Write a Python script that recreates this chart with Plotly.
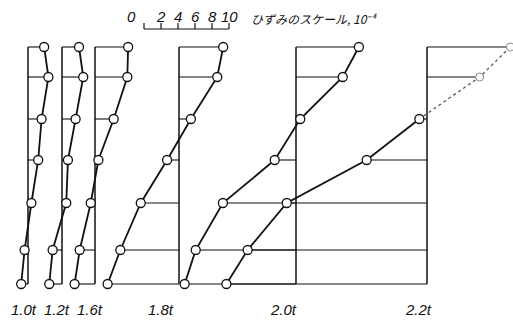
import plotly.graph_objects as go

# gauge depth levels (arbitrary depth units, top = 0)
levels = [0, 30, 72, 113, 156, 203, 237]

# load stages
loads = ["1.0t", "1.2t", "1.6t", "1.8t", "2.0t", "2.2t"]

# strain values at each gauge level, unit 10^-4
strain_10 = [1.9, 2.4, 1.6, 1.2, 0.4, -0.4, -0.8]
strain_12 = [2.0, 2.5, 1.6, 0.7, 0.5, -1.1, -1.5]
strain_16 = [3.9, 3.8, 2.2, 0.4, -0.5, -1.8, -2.4]
strain_18 = [5.2, 4.5, 1.4, -1.4, -4.5, -6.9, -8.4]
strain_20 = [7.4, 5.5, 0.5, -2.5, -8.6, -11.8, -13.1]
strain_22 = [9.8, 6.2, -0.9, -7.1, -16.5, -21.1, -23.6]
strains = [strain_10, strain_12, strain_16, strain_18, strain_20, strain_22]

# scale bar ticks (10^-4)
scale_ticks = [0, 2, 4, 6, 8, 10]

# ---- layout (positions) ----
PX = 8.5                      # pixels per 1e-4 strain
W, H = 513, 324
TOP = 47                      # pixel row of depth 0
offsets = [28 / PX, 62 / PX, 95 / PX, 179 / PX, 296 / PX, 427 / PX]
label_x = [24 / PX, 57 / PX, 90 / PX, 161 / PX, 283 / PX, 418 / PX]
scale_x0 = 144 / PX
scale_y = 29 - TOP
tick_top = 23 - TOP

fig = go.Figure()
black = "#111111"

for i, (off, s) in enumerate(zip(offsets, strains)):
    # zero line
    fig.add_trace(go.Scatter(x=[off, off], y=[levels[0], levels[-1]], mode="lines",
                             line=dict(color=black, width=1.5), hoverinfo="skip", showlegend=False))
    # horizontal lines
    hx, hy = [], []
    for lv, v in zip(levels, s):
        hx += [off, off + v, None]
        hy += [lv, lv, None]
    fig.add_trace(go.Scatter(x=hx, y=hy, mode="lines",
                             line=dict(color=black, width=1.1), hoverinfo="skip", showlegend=False))
    xs = [off + v for v in s]
    if i == len(strains) - 1:
        # upper part of last stage is drawn faint / dashed
        fig.add_trace(go.Scatter(x=xs[:3], y=levels[:3], mode="lines",
                                 line=dict(color="#555555", width=1.3, dash="dot"),
                                 hoverinfo="skip", showlegend=False))
        fig.add_trace(go.Scatter(x=xs[:2], y=levels[:2], mode="markers",
                                 marker=dict(symbol="circle", size=8, color="white",
                                             line=dict(color="#888888", width=1)),
                                 hoverinfo="skip", showlegend=False))
        fig.add_trace(go.Scatter(x=xs[2:], y=levels[2:], mode="lines+markers",
                                 line=dict(color=black, width=1.8),
                                 marker=dict(symbol="circle", size=9, color="white",
                                             line=dict(color=black, width=1.3)),
                                 hoverinfo="skip", showlegend=False))
    else:
        fig.add_trace(go.Scatter(x=xs, y=levels, mode="lines+markers",
                                 line=dict(color=black, width=1.8),
                                 marker=dict(symbol="circle", size=9, color="white",
                                             line=dict(color=black, width=1.3)),
                                 hoverinfo="skip", showlegend=False))

# scale bar
sx, sy = [scale_x0, scale_x0 + scale_ticks[-1], None], [scale_y, scale_y, None]
for t in scale_ticks:
    sx += [scale_x0 + t, scale_x0 + t, None]
    sy += [scale_y, tick_top, None]
fig.add_trace(go.Scatter(x=sx, y=sy, mode="lines", line=dict(color=black, width=1.2),
                         hoverinfo="skip", showlegend=False))

annotations = []
for t in scale_ticks:
    xx = scale_x0 + t if t else scale_x0 - 1.5
    yy = 16 - TOP
    annotations.append(dict(x=xx, y=yy, text=f"<i>{t}</i>", showarrow=False,
                            font=dict(size=15, color=black, family="Liberation Sans")))
annotations.append(dict(x=249 / PX, y=18 - TOP, xanchor="left",
                        text="<i>ひずみのスケール, 10⁻⁴</i>", showarrow=False,
                        font=dict(size=12, color=black, family="Noto Sans CJK JP")))
for lx, lab in zip(label_x, loads):
    annotations.append(dict(x=lx, y=309 - TOP, text=f"<i>{lab}</i>", showarrow=False,
                            font=dict(size=15, color=black, family="Liberation Sans")))

fig.update_layout(
    width=W, height=H, margin=dict(l=0, r=0, t=0, b=0),
    paper_bgcolor="white", plot_bgcolor="white",
    xaxis=dict(range=[0, W / PX], visible=False, fixedrange=True),
    yaxis=dict(range=[H - TOP, -TOP], visible=False, fixedrange=True),
    annotations=annotations,
)
fig.write_html("out.html", config={"displayModeBar": False},
               post_script="document.body.style.margin='0';document.body.style.overflow='hidden';")
